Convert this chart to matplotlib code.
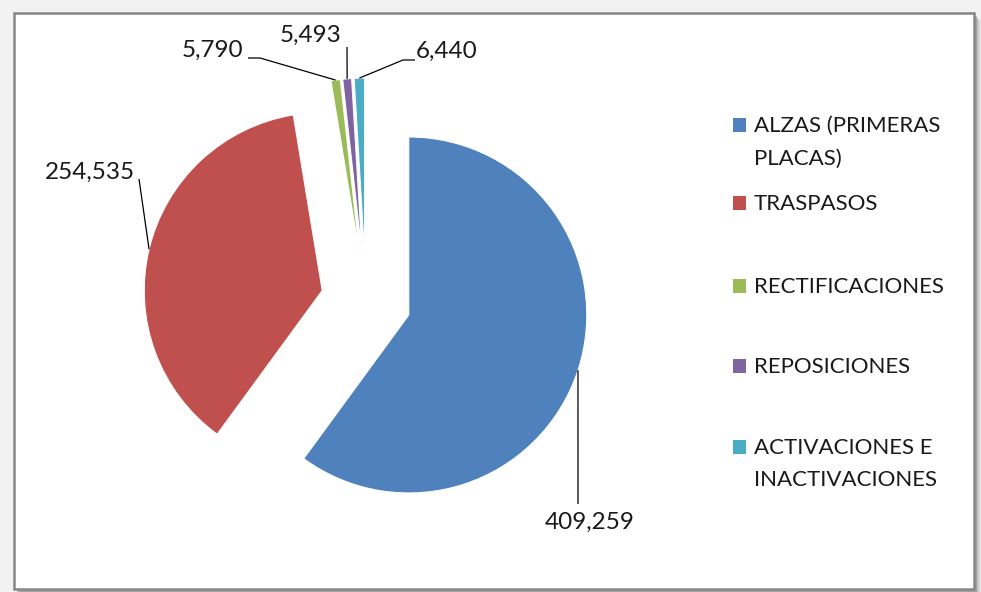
import matplotlib
matplotlib.use('Agg')
import matplotlib.pyplot as plt
from matplotlib.patches import Rectangle
import numpy as np

# ---- data ----
categories = ["ALZAS (PRIMERAS\nPLACAS)", "TRASPASOS", "RECTIFICACIONES",
              "REPOSICIONES", "ACTIVACIONES E\nINACTIVACIONES"]
values = [409259, 254535, 5790, 5493, 6440]
colors = ["#4F81BD", "#C0504D", "#9BBB59", "#8064A2", "#4BACC6"]

W, H = 981, 592
FONT = ['Lato', 'DejaVu Sans']
plt.rcParams['font.family'] = FONT

fig = plt.figure(figsize=(W / 100, H / 100), dpi=100, facecolor='#f2f2f2')
ax = fig.add_axes([0, 0, 1, 1])


def iy(y):
    return H - y


# frame with soft shadow
for k, a in enumerate([0.10, 0.18, 0.28, 0.40]):
    off = 7 - k * 1.5
    ax.add_patch(Rectangle((14 + off, iy(589 + off)), 960, 576,
                           facecolor='#808080', edgecolor='none', alpha=a, zorder=0))
ax.add_patch(Rectangle((14, iy(589)), 960, 576, facecolor='white',
                       edgecolor='#868686', linewidth=1.8, zorder=1))

# ---- pie ----
wedges, _ = ax.pie(values, colors=colors, startangle=90, counterclock=False,
                   center=(366, iy(301)), radius=178, explode=[45] * len(values),
                   wedgeprops=dict(edgecolor='white', linewidth=0.8, zorder=2))
for w in wedges:
    w.set_zorder(2)

ax.set_xlim(0, W)
ax.set_ylim(0, H)
ax.set_aspect('auto')
ax.axis('off')

# ---- data labels with leader lines ----
label_layout = [
    dict(xy=(590, 522), ha='center', va='center', elbow=[(578, 504)]),
    dict(xy=(90, 172), ha='center', va='center', elbow=[(139, 179)]),
    dict(xy=(243, 50), ha='right', va='center', elbow=[(260, 58), (248, 58)]),
    dict(xy=(311, 35), ha='center', va='center', elbow=[(347, 47)]),
    dict(xy=(416, 51), ha='left', va='center', elbow=[(403, 60), (415, 60)]),
]
for w, v, lay in zip(wedges, values, label_layout):
    tm = np.deg2rad((w.theta1 + w.theta2) / 2)
    cx, cy = w.center
    ax0 = cx + w.r * np.cos(tm)
    ay0 = cy + w.r * np.sin(tm)
    xs = [ax0] + [p[0] for p in lay['elbow']]
    ys = [ay0] + [iy(p[1]) for p in lay['elbow']]
    ax.plot(xs, ys, color='black', linewidth=0.9, zorder=3, solid_capstyle='butt')
    ax.text(lay['xy'][0], iy(lay['xy'][1]), f"{v:,}", ha=lay['ha'], va=lay['va'],
            fontsize=17.5, color='#1a1a1a', zorder=4)

# ---- legend ----
legend_baselines = [132, 210, 293, 373, 454]
line_gap = 32.5
for cat, col, yb in zip(categories, colors, legend_baselines):
    ax.add_patch(Rectangle((733, iy(yb)), 13, 14, facecolor=col,
                           edgecolor='none', zorder=3))
    for i, line in enumerate(cat.split('\n')):
        ax.text(754, iy(yb + i * line_gap), line, ha='left', va='baseline',
                fontsize=16, color='#1a1a1a', zorder=4)

fig.savefig('out.png', dpi=100, facecolor=fig.get_facecolor())
